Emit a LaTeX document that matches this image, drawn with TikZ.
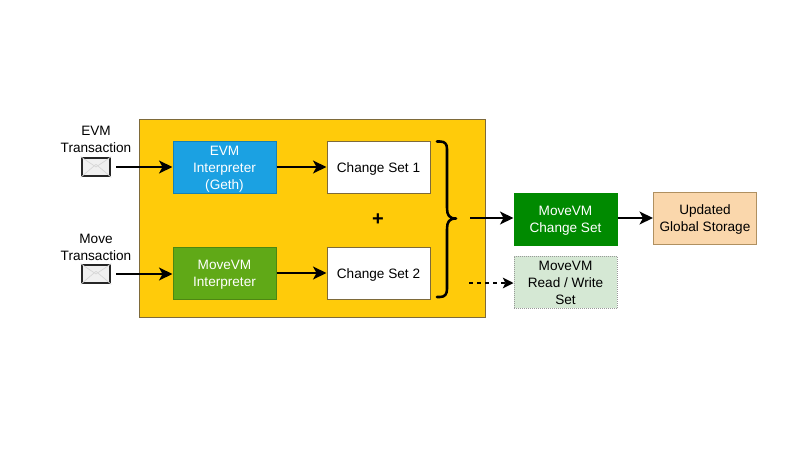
\documentclass[tikz,border=0pt]{standalone}
\usepackage{fontspec}
\setmainfont{Liberation Sans}
\usetikzlibrary{arrows.meta}
\definecolor{yel}{HTML}{FFCB0A}
\definecolor{yelb}{HTML}{7E6A3A}
\definecolor{evmb}{HTML}{1BA1E2}
\definecolor{mvb}{HTML}{60A917}
\definecolor{dgr}{HTML}{008A00}
\definecolor{org}{HTML}{FAD7AC}
\definecolor{orgb}{HTML}{B09060}
\definecolor{lgr}{HTML}{D5E8D4}
\newcommand{\mlt}[1]{\raisebox{-1.3pt}[\height][\depth]{\begin{tabular}{@{}c@{}}#1\end{tabular}}}
\tikzset{
  txt/.style={font=\fontsize{10.2pt}{12.7pt}\selectfont,align=center},
  boxn/.style={font=\fontsize{10.2pt}{12.7pt}\selectfont,minimum width=77.5pt,minimum height=39pt,inner sep=0pt,draw=#1,line width=0.5pt},
  flow/.style={line width=1.8pt,-{Stealth[length=10pt,width=9.5pt,inset=2.5pt]}},
  envl/.style={draw=black!85,line width=1.5pt,fill=black!6,minimum width=21.5pt,minimum height=14pt,inner sep=0pt}
}
\begin{document}
\begin{tikzpicture}[x=0.75pt,y=-0.75pt]
\useasboundingbox (0,0) rectangle (800,450);
\fill[white] (0,0) rectangle (800,450);
\node[draw=yelb,fill=yel,line width=0.7pt,minimum width=260pt,minimum height=148.5pt,inner sep=0pt] (outer) at (312.5,218) {};
\node[boxn=evmb!80!black,fill=evmb,text=white] (evm) at (224.5,167) {\mlt{EVM\\Interpreter\\(Geth)}};
\node[boxn=mvb!80!black,fill=mvb,text=white] (mv) at (224.5,273) {\mlt{MoveVM\\Interpreter}};
\node[boxn=yelb,fill=white] (cs1) at (378.5,167) {\mlt{Change Set 1}};
\node[boxn=yelb,fill=white] (cs2) at (378.5,273) {\mlt{Change Set 2}};
\node[boxn=dgr,fill=dgr,text=white] (mcs) at (565.5,219) {\mlt{MoveVM\\Change Set}};
\node[boxn=orgb,fill=org] (gs) at (705,218) {\mlt{Updated\\Global Storage}};
\node[boxn=black!40,fill=lgr,densely dotted] (rw) at (565.5,282) {\mlt{MoveVM\\Read / Write\\Set}};
\node[envl] (e1) at (96,167) {};
\node[envl] (e2) at (96,274) {};
\draw[black!16,line width=0.5pt] (e1.north west) -- (e1.center) -- (e1.north east) (e1.south west) -- ([yshift=2pt]e1.center) (e1.south east) -- ([yshift=2pt]e1.center);
\draw[black!16,line width=0.5pt] (e2.north west) -- (e2.center) -- (e2.north east) (e2.south west) -- ([yshift=2pt]e2.center) (e2.south east) -- ([yshift=2pt]e2.center);
\node[txt,anchor=south] (t1) at (96,157.5) {EVM\\Transaction};
\node[txt,anchor=south] (t2) at (96,265) {Move\\Transaction};
\node[font=\bfseries\fontsize{15pt}{15pt}\selectfont,inner sep=0pt] (plus) at (378,220) {+};
\coordinate (bt) at (437,141.5);
\coordinate (bb) at (437,297);
\coordinate (btip) at (456,218.5);
\coordinate (o1) at (470,218);
\coordinate (o2) at (469,283);
\draw[line width=1.9pt,line cap=round,line join=round] (bt) -- (440,141.5) .. controls (445,141.5) and (447,144) .. (447,149) -- (447,208) .. controls (447,215) and (449,218.5) .. (btip) .. controls (449,218.5) and (447,222) .. (447,229) -- (447,289) .. controls (447,294) and (445,297) .. (440,297) -- (bb);
\draw[flow,shorten <=3.5pt] (e1) -- (evm);
\draw[flow,shorten <=3.5pt] (e2) -- (mv.west |- e2);
\draw[flow] (evm) -- (cs1);
\draw[flow] (mv) -- (cs2);
\draw[flow] (o1) -- (mcs.west |- o1);
\draw[flow] (mcs.east |- gs) -- (gs);
\draw[line width=1.1pt,dashed,-{Stealth[length=8pt,width=8pt,inset=2pt]}] (o2) -- (rw.west |- o2);
\end{tikzpicture}
\end{document}
